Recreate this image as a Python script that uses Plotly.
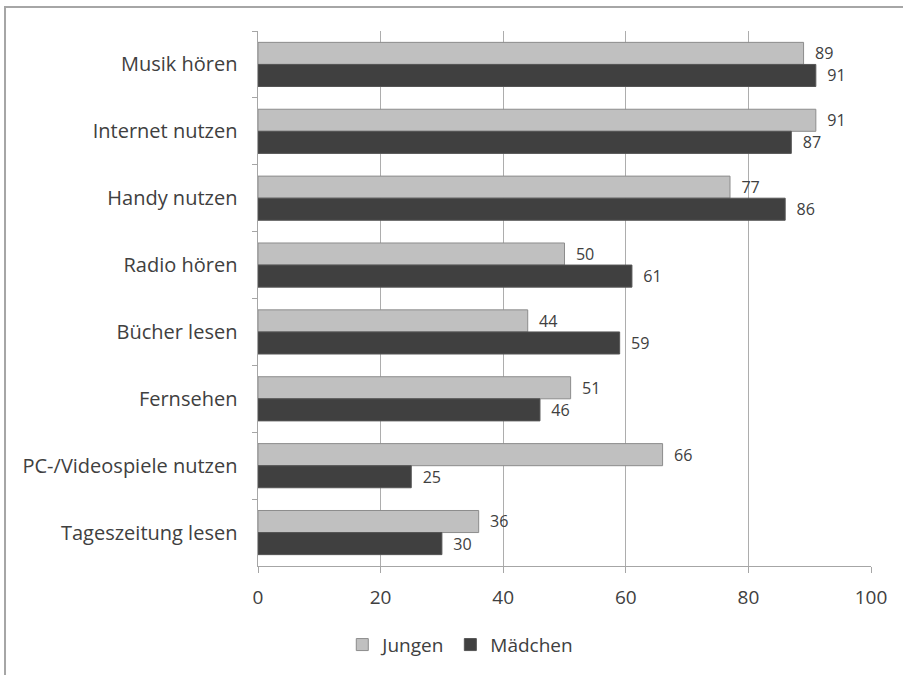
import plotly.graph_objects as go

categories = ["Musik hören", "Internet nutzen", "Handy nutzen", "Radio hören",
              "Bücher lesen", "Fernsehen", "PC-/Videospiele nutzen", "Tageszeitung lesen"]
jungen = [89, 91, 77, 50, 44, 51, 66, 36]
maedchen = [91, 87, 86, 61, 59, 46, 25, 30]
x_ticks = [0, 20, 40, 60, 80, 100]

FONT = "Open Sans"
TXT = "#404040"

fig = go.Figure()
fig.add_trace(go.Bar(
    y=categories, x=jungen, name="Jungen", orientation="h",
    marker=dict(color="#c0c0c0", line=dict(color="#8c8c8c", width=1)),
    text=jungen, texttemplate="  %{x}", textposition="outside",
    textfont=dict(family=FONT, size=19, color=TXT), cliponaxis=False,
))
fig.add_trace(go.Bar(
    y=categories, x=maedchen, name="Mädchen", orientation="h",
    marker=dict(color="#404040", line=dict(color="#555555", width=1)),
    text=maedchen, texttemplate="  %{x}", textposition="outside",
    textfont=dict(family=FONT, size=19, color=TXT), cliponaxis=False,
))

fig.update_layout(
    width=903, height=675,
    margin=dict(l=258, r=32, t=31, b=108),
    paper_bgcolor="white", plot_bgcolor="white",
    barmode="group", bargap=0.34, bargroupgap=0,
    font=dict(family=FONT, size=19, color=TXT),
    showlegend=True,
    legend=dict(orientation="h", x=0.33, xanchor="center", y=-0.145, yanchor="middle",
                itemwidth=30,
                font=dict(family=FONT, size=19, color=TXT), traceorder="normal"),
    xaxis=dict(range=[0, 100], tickvals=x_ticks, showgrid=True, gridcolor="#adadad", gridwidth=1,
               showline=True, linecolor="#a6a6a6", linewidth=1, ticks="outside", ticklen=6,
               tickcolor="#a6a6a6", ticklabelstandoff=8,
               tickfont=dict(family=FONT, size=19, color=TXT), zeroline=False),
    yaxis=dict(autorange="reversed", type="category", showline=True, linecolor="#a6a6a6", linewidth=1,
               ticks="outside", tickson="boundaries", ticklen=5, tickcolor="#a6a6a6",
               showgrid=False, tickfont=dict(family=FONT, size=20, color=TXT), ticksuffix="   "),
    shapes=[dict(type="rect", xref="paper", yref="paper", x0=-0.4127, x1=2, y0=-1, y1=1.0448,
                 line=dict(color="#a6a6a6", width=2), fillcolor="rgba(0,0,0,0)", layer="below")],
)

fig.write_html("out.html")
